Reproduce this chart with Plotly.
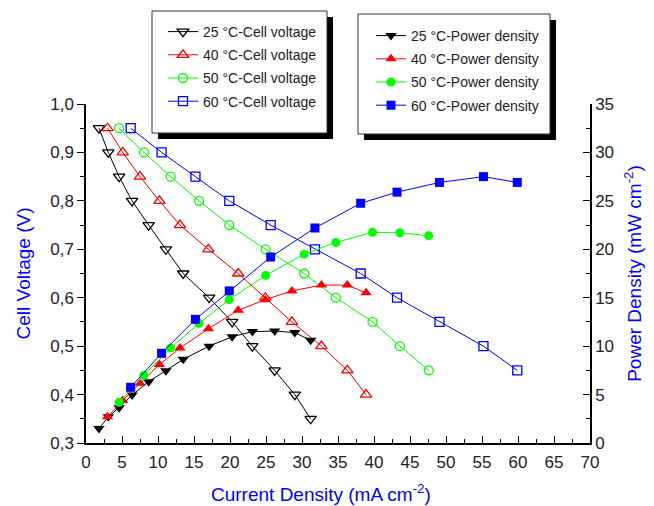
import plotly.graph_objects as go

# Current density (mA cm-2) for each temperature
i_25 = [1.8, 3.1, 4.6, 6.4, 8.7, 11.1, 13.5, 17.1, 20.3, 23.1, 26.2, 29.0, 31.2]
i_40 = [3.0, 5.1, 7.5, 10.2, 13.05, 17.0, 21.15, 24.9, 28.6, 32.7, 36.3, 38.9]
i_50 = [4.6, 8.05, 11.75, 15.7, 19.9, 24.95, 30.3, 34.7, 39.8, 43.6, 47.6]
i_60 = [6.2, 10.5, 15.2, 19.9, 25.65, 31.8, 38.15, 43.2, 49.1, 55.2, 59.9]

# Cell voltage (V)
v_25 = [0.95, 0.90, 0.85, 0.80, 0.75, 0.70, 0.65, 0.60, 0.55, 0.50, 0.45, 0.40, 0.35]
v_40 = [0.95, 0.90, 0.85, 0.80, 0.75, 0.70, 0.65, 0.60, 0.55, 0.50, 0.45, 0.40]
v_50 = [0.95, 0.90, 0.85, 0.80, 0.75, 0.70, 0.65, 0.60, 0.55, 0.50, 0.45]
v_60 = [0.95, 0.90, 0.85, 0.80, 0.75, 0.70, 0.65, 0.60, 0.55, 0.50, 0.45]

# Power density (mW cm-2)
p_25 = [1.5, 2.7, 3.65, 4.96, 6.33, 7.47, 8.64, 10.0, 10.97, 11.5, 11.56, 11.4, 10.6]
p_40 = [2.72, 4.4, 6.16, 8.1, 9.8, 11.8, 13.7, 14.8, 15.7, 16.3, 16.3, 15.5]
p_50 = [4.2, 7.0, 9.8, 12.35, 14.8, 17.3, 19.5, 20.7, 21.75, 21.7, 21.4]
p_60 = [5.75, 9.26, 12.77, 15.7, 19.2, 22.2, 24.75, 25.9, 26.9, 27.5, 26.9]

temps = ["25", "40", "50", "60"]
currents = [i_25, i_40, i_50, i_60]
voltages = [v_25, v_40, v_50, v_60]
powers = [p_25, p_40, p_50, p_60]
colors = ["#000000", "#FF0000", "#00FF00", "#0000FF"]
open_symbols = ["triangle-down-open", "triangle-up-open", "circle-open", "square-open"]
filled_symbols = ["triangle-down", "triangle-up", "circle", "square"]
sizes = [10, 10, 9, 9]

FONT = "Arial, Liberation Sans, sans-serif"

fig = go.Figure()

for k, t in enumerate(temps):
    fig.add_trace(go.Scatter(
        x=currents[k], y=voltages[k], mode="lines+markers",
        name=f"{t} °C-Cell voltage", legend="legend", legendgroup=f"v{t}",
        line=dict(color=colors[k], width=1),
        marker=dict(symbol=open_symbols[k], size=sizes[k], color=colors[k],
                    line=dict(width=1.3, color=colors[k])),
        cliponaxis=False,
    ))

for k, t in enumerate(temps):
    fig.add_trace(go.Scatter(
        x=currents[k], y=powers[k], mode="lines+markers", yaxis="y2",
        name=f"{t} °C-Power density", legend="legend2", legendgroup=f"p{t}",
        line=dict(color=colors[k], width=1),
        marker=dict(symbol=filled_symbols[k], size=sizes[k], color=colors[k],
                    line=dict(width=0)),
        cliponaxis=False,
    ))

# Legend frames with offset drop shadows (paper coordinates)
PX_W, PX_H = 504.0, 339.0
X0, Y0 = 86.0, 443.0


def px_to_paper(px, py):
    return (px - X0) / PX_W, (Y0 - py) / PX_H


def framed_box(left, top, right, bottom, shadow=6):
    sx0, sy0 = px_to_paper(left + shadow, bottom + shadow)
    sx1, sy1 = px_to_paper(right + shadow, top + shadow)
    bx0, by0 = px_to_paper(left, bottom)
    bx1, by1 = px_to_paper(right, top)
    return [
        dict(type="rect", xref="paper", yref="paper", x0=sx0, y0=sy0, x1=sx1, y1=sy1,
             fillcolor="black", line=dict(width=0), layer="above"),
        dict(type="rect", xref="paper", yref="paper", x0=bx0, y0=by0, x1=bx1, y1=by1,
             fillcolor="white", line=dict(color="#333333", width=1), layer="above"),
    ]


shapes = framed_box(152, 11, 327, 133) + framed_box(358, 14, 550, 134)

axis_font = dict(family=FONT, size=17, color="#222222")
title_font = dict(family=FONT, size=19, color="#0000FF")

lx1, ly1 = px_to_paper(163, 16)
lx2, ly2 = px_to_paper(371, 20)
tx, ty = px_to_paper(321, 493)

fig.update_layout(
    width=654, height=506,
    margin=dict(l=86, r=64, t=104, b=63),
    paper_bgcolor="white", plot_bgcolor="white",
    separators=",.",
    font=dict(family=FONT, size=14, color="#222222"),
    showlegend=True,
    shapes=shapes,
    legend=dict(x=lx1, y=ly1, xanchor="left", yanchor="top",
                bgcolor="rgba(0,0,0,0)", borderwidth=0,
                font=dict(family=FONT, size=14, color="#222222"),
                traceorder="grouped", tracegroupgap=2),
    legend2=dict(x=lx2, y=ly2, xanchor="left", yanchor="top",
                 bgcolor="rgba(0,0,0,0)", borderwidth=0,
                 font=dict(family=FONT, size=14, color="#222222"),
                 traceorder="grouped", tracegroupgap=2),
    annotations=[dict(
        text="Current Density (mA cm<sup>-2</sup>)", xref="paper", yref="paper",
        x=tx, y=ty, xanchor="center", yanchor="middle", showarrow=False,
        font=title_font,
    )],
    xaxis=dict(
        range=[0, 70], dtick=5, tick0=0, showgrid=False, zeroline=False,
        showline=True, linecolor="black", linewidth=1.5, mirror=False,
        ticks="inside", ticklen=7, tickwidth=1.3, tickcolor="black",
        minor=dict(dtick=2.5, ticks="inside", ticklen=4, tickwidth=1, tickcolor="black"),
        tickfont=axis_font, ticklabelstandoff=3,
    ),
    yaxis=dict(
        range=[0.3, 1.0], dtick=0.1, tick0=0.3, tickformat=".1f",
        showgrid=False, zeroline=False,
        showline=True, linecolor="black", linewidth=1.5,
        ticks="outside", ticklen=7, tickwidth=1.3, tickcolor="black",
        minor=dict(dtick=0.05, ticks="outside", ticklen=4, tickwidth=1, tickcolor="black"),
        tickfont=axis_font,
        title=dict(text="Cell Voltage (V)", font=title_font, standoff=15),
    ),
    yaxis2=dict(
        range=[0, 35], dtick=5, tick0=0, overlaying="y", side="right",
        showgrid=False, zeroline=False,
        showline=True, linecolor="black", linewidth=1.5,
        ticks="inside", ticklen=7, tickwidth=1.3, tickcolor="black",
        minor=dict(dtick=2.5, ticks="inside", ticklen=4, tickwidth=1, tickcolor="black"),
        tickfont=axis_font,
        title=dict(text="Power Density (mW cm<sup>-2</sup>)", font=title_font, standoff=15),
    ),
)

fig.write_html("out.html")
